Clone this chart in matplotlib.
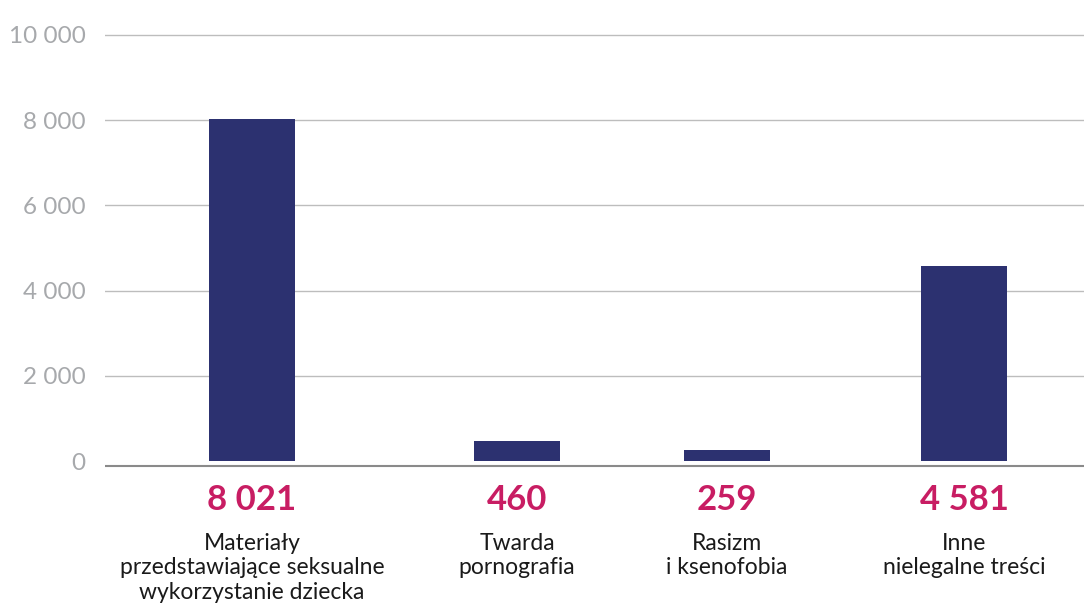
import matplotlib.pyplot as plt
import matplotlib.transforms as mtransforms

# dane
kategorie = ["Materiały\nprzedstawiające seksualne\nwykorzystanie dziecka",
             "Twarda\npornografia",
             "Rasizm\ni ksenofobia",
             "Inne\nnielegalne treści"]
wartosci = [8021, 460, 259, 4581]
etykiety = ["8 021", "460", "259", "4 581"]
yticks = [0, 2000, 4000, 6000, 8000, 10000]
ytick_labels = ["0", "2 000", "4 000", "6 000", "8 000", "10 000"]

# uklad (pozycje slupkow w pikselach obrazu)
pozycje = [252, 517, 727, 964]

plt.rcParams['font.family'] = ['Lato', 'DejaVu Sans']

fig = plt.figure(figsize=(10.84, 6.07), dpi=100)
ax = fig.add_axes([105/1084, 1 - 470/607, 1 - 105/1084, 440/607])

skala = 2000 / 85.3
ax.set_ylim(-(470 - 461) * skala, 10000 + 5 * skala)
ax.set_xlim(105, 1084)

ax.bar(pozycje, wartosci, width=86, color="#2C3170", zorder=3)

# siatka
for y in yticks[1:]:
    ax.axhline(y, color="#BDBDBD", lw=1, zorder=1)
ax.axhline(-5 * skala, color="#8A8A8A", lw=1.5, zorder=2)

ax.set_yticks(yticks)
ax.set_yticklabels(ytick_labels, color="#A7A9AC", fontsize=17.5)
ax.tick_params(axis="y", length=0, pad=14)
ax.set_xticks([])
for s in ax.spines.values():
    s.set_visible(False)

tr = mtransforms.blended_transform_factory(ax.transData, fig.transFigure)
for x, et, kat in zip(pozycje, etykiety, kategorie):
    ax.text(x, 1 - 500/607, et, transform=tr, ha="center", va="center",
            fontsize=25, fontweight="bold", color="#C81D63")
    ax.text(x, 1 - 533/607, kat, transform=tr, ha="center", va="top",
            fontsize=16.5, color="#1A1A1A", linespacing=1.2)

fig.savefig("out.png", dpi=100)
